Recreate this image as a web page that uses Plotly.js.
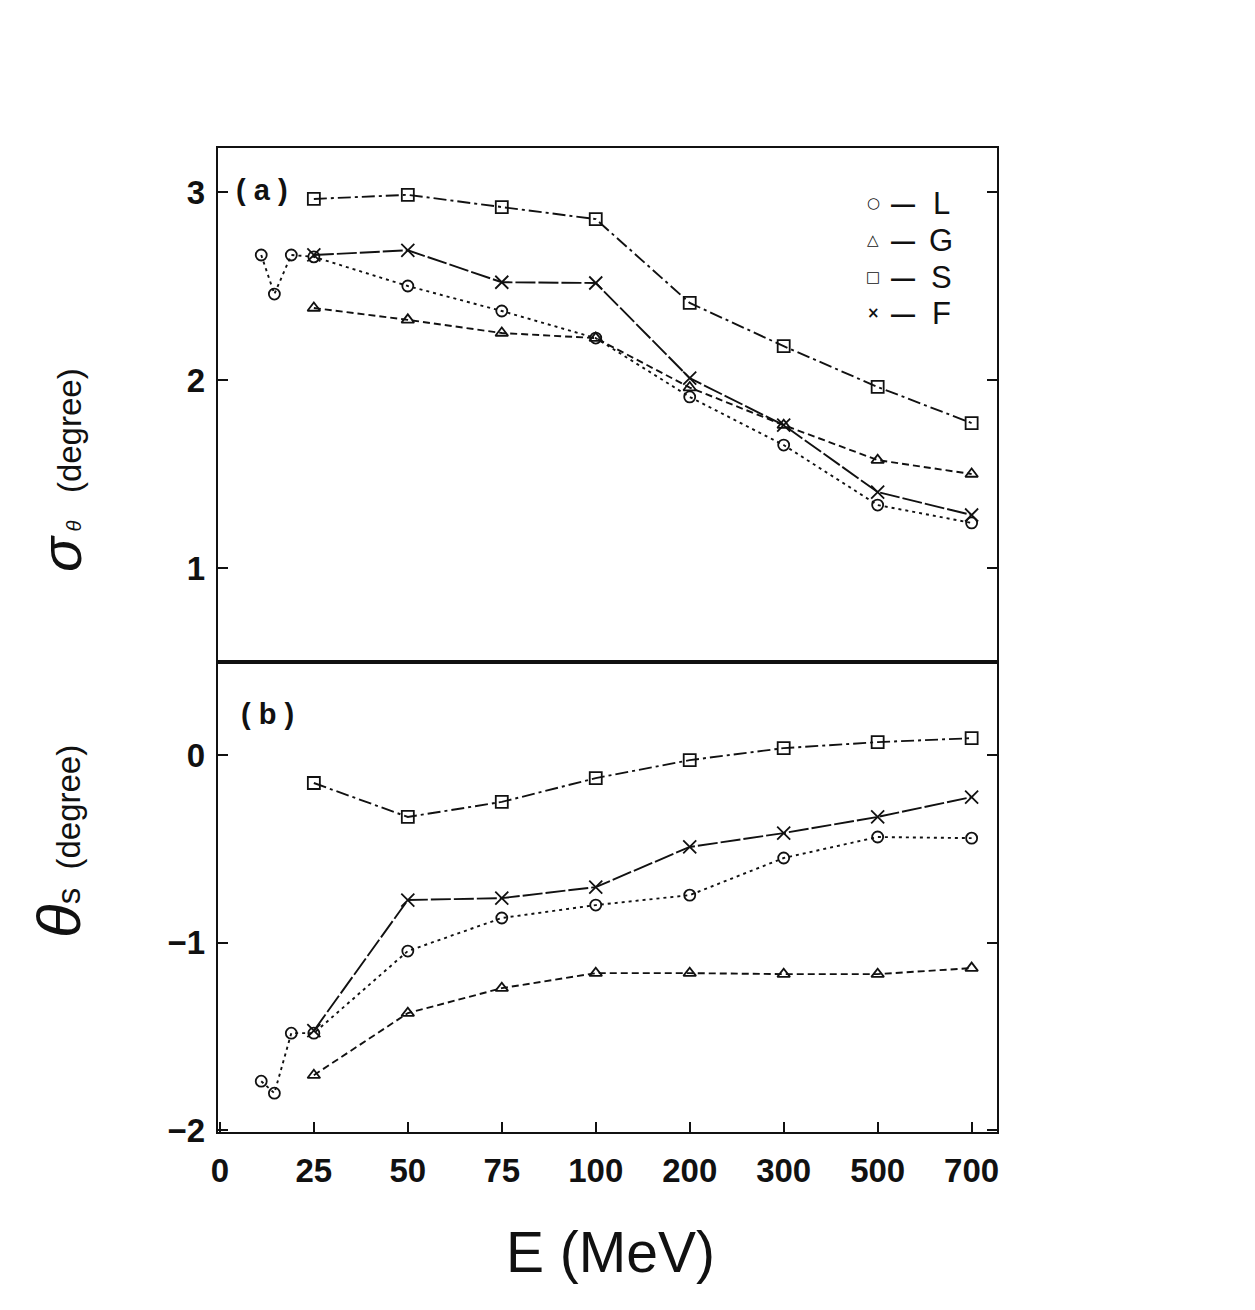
<!DOCTYPE html>
<html>
<head>
<meta charset="utf-8">
<script src="https://cdn.plot.ly/plotly-3.0.1.min.js"></script>
<style>
  html, body { margin: 0; padding: 0; background: #ffffff; }
  #chart { width: 1255px; height: 1310px; }
</style>
</head>
<body>
<div id="chart"></div>
<script>
// ---- data ----
const energyTicks = [0, 25, 50, 75, 100, 200, 300, 500, 700];
const energyTickText = ['0', '25', '50', '75', '100', '200', '300', '500', '700'];

// energies for the L series (has extra low-energy points) and for the others
const energyL = [11, 14.5, 19, 25, 50, 75, 100, 200, 300, 500, 700];
const energyMain = [25, 50, 75, 100, 200, 300, 500, 700];

// (a) spatial resolution sigma_theta (degree)
const sigmaL = [2.665, 2.457, 2.665, 2.655, 2.50, 2.367, 2.223, 1.91, 1.654, 1.335, 1.24];
const sigmaG = [2.383, 2.32, 2.25, 2.223, 1.96, 1.76, 1.574, 1.50];
const sigmaS = [2.963, 2.985, 2.92, 2.856, 2.41, 2.18, 1.963, 1.771];
const sigmaF = [2.665, 2.69, 2.52, 2.516, 2.01, 1.76, 1.404, 1.282];

// (b) systematic shift theta_s (degree)
const shiftL = [-1.739, -1.803, -1.483, -1.483, -1.045, -0.869, -0.80, -0.747, -0.549, -0.437, -0.443];
const shiftG = [-1.707, -1.376, -1.243, -1.163, -1.163, -1.168, -1.168, -1.136];
const shiftS = [-0.149, -0.33, -0.25, -0.123, -0.027, 0.037, 0.069, 0.09];
const shiftF = [-1.47, -0.773, -0.763, -0.704, -0.49, -0.416, -0.33, -0.224];

const seriesNames = ['L', 'G', 'S', 'F'];

// ---- axis transform: energy -> equally spaced tick position (piecewise linear) ----
function epos(e) {
  for (let i = 0; i < energyTicks.length - 1; i++) {
    const a = energyTicks[i], b = energyTicks[i + 1];
    if (e >= a && e <= b) return i + (e - a) / (b - a);
  }
  return energyTicks.length - 1;
}

const FONT = 'Liberation Sans, Arial, Helvetica, sans-serif';
const styles = {
  L: { symbol: 'circle-open', dash: '3px,4px', size: 11 },
  G: { symbol: 'triangle-up-open', dash: '7px,4px', size: 11 },
  S: { symbol: 'square-open', dash: '13px,4px,3px,4px', size: 12 },
  F: { symbol: 'x-thin-open', dash: '20px,3px', size: 13 }
};

function mk(name, es, ys, xa, ya) {
  const st = styles[name];
  return {
    type: 'scatter', mode: 'lines+markers', name: name, showlegend: false,
    x: es.map(epos), y: ys, xaxis: xa, yaxis: ya,
    line: { color: '#111', width: 1.9, dash: st.dash },
    marker: { symbol: st.symbol, size: st.size, color: '#111', line: { color: '#111', width: 1.8 } },
    cliponaxis: false
  };
}

const traces = [
  mk('L', energyL, sigmaL, 'x2', 'y'),
  mk('G', energyMain, sigmaG, 'x2', 'y'),
  mk('S', energyMain, sigmaS, 'x2', 'y'),
  mk('F', energyMain, sigmaF, 'x2', 'y'),
  mk('L', energyL, shiftL, 'x', 'y2'),
  mk('G', energyMain, shiftG, 'x', 'y2'),
  mk('S', energyMain, shiftS, 'x', 'y2'),
  mk('F', energyMain, shiftF, 'x', 'y2')
];

const split = 0.4776;
const xr = [-0.02, 8.27];
const tickFont = { size: 33, family: FONT, color: '#111', weight: 'bold' };

const layout = {
  width: 1255, height: 1310,
  paper_bgcolor: '#ffffff', plot_bgcolor: '#ffffff',
  margin: { l: 218, r: 258, t: 148, b: 178 },
  font: { family: FONT, color: '#111' },
  showlegend: false,
  xaxis: {
    domain: [0, 1], anchor: 'y2', range: xr,
    tickmode: 'array', tickvals: energyTicks.map(epos), ticktext: energyTickText,
    ticks: 'inside', ticklen: 10, tickwidth: 2, tickcolor: '#111',
    showline: true, linewidth: 2.4, linecolor: '#111', mirror: true,
    showgrid: false, zeroline: false,
    tickfont: tickFont,
    ticklabelstandoff: 8
  },
  xaxis2: {
    domain: [0, 1], anchor: 'y', range: xr, matches: 'x',
    showticklabels: false, ticks: '',
    showline: true, linewidth: 2.4, linecolor: '#111', mirror: true,
    showgrid: false, zeroline: false
  },
  yaxis: {
    domain: [split, 1], anchor: 'x2', range: [0.5, 3.234],
    tickmode: 'array', tickvals: [1, 2, 3], ticktext: ['1', '2', '3'],
    ticks: 'inside', ticklen: 10, tickwidth: 2, tickcolor: '#111',
    showline: true, linewidth: 2.4, linecolor: '#111', mirror: 'ticks',
    showgrid: false, zeroline: false,
    tickfont: tickFont,
    ticklabelstandoff: 4
  },
  yaxis2: {
    domain: [0, split], anchor: 'x', range: [-2.01, 0.496],
    tickmode: 'array', tickvals: [0, -1, -2], ticktext: ['0', '\u22121', '\u22122'],
    ticks: 'inside', ticklen: 10, tickwidth: 2, tickcolor: '#111',
    showline: true, linewidth: 2.4, linecolor: '#111', mirror: 'ticks',
    showgrid: false, zeroline: false,
    tickfont: tickFont,
    ticklabelstandoff: 4
  },
  annotations: []
};

function px2x(px) { return (px - 218) / 779; }
function py2y(py) { return (1132 - py) / 984; }
function ann(text, px, py, size, extra) {
  return Object.assign({
    xref: 'paper', yref: 'paper', x: px2x(px), y: py2y(py),
    xanchor: 'center', yanchor: 'middle', showarrow: false,
    text: text, font: { family: FONT, size: size, color: '#111' }
  }, extra || {});
}

layout.annotations.push(ann('<b>( a )</b>', 262, 190, 29));
layout.annotations.push(ann('<b>( b )</b>', 267, 714, 29));
layout.annotations.push(ann('E (MeV)', 610, 1252, 57));

// y-axis titles
layout.annotations.push(ann('<span style="font-size:58px"><i>\u03c3</i></span><span style="font-size:20px"><i> \u03b8</i></span>   (degree)', 60, 470, 33, { textangle: -90 }));
layout.annotations.push(ann('<span style="font-size:62px"><i>\u03b8</i></span>s  (degree)', 58, 842, 33, { textangle: -90 }));

// legend (symbol — letter)
const legendSyms = ['\u25cb', '\u25b3', '\u25a1', '\u00d7'];
const legendY = [203, 240, 277, 313];
seriesNames.forEach((n, i) => {
  layout.annotations.push(ann(legendSyms[i], 873, legendY[i], 15, { font: { family: 'DejaVu Sans', size: 15, color: '#111', weight: 'bold' } }));
  layout.annotations.push(ann('<b>\u2014</b>', 903, legendY[i], 24));
  layout.annotations.push(ann(n, 941, legendY[i], 31));
});

Plotly.newPlot('chart', traces, layout, { staticPlot: true, displayModeBar: false });
</script>
</body>
</html>
